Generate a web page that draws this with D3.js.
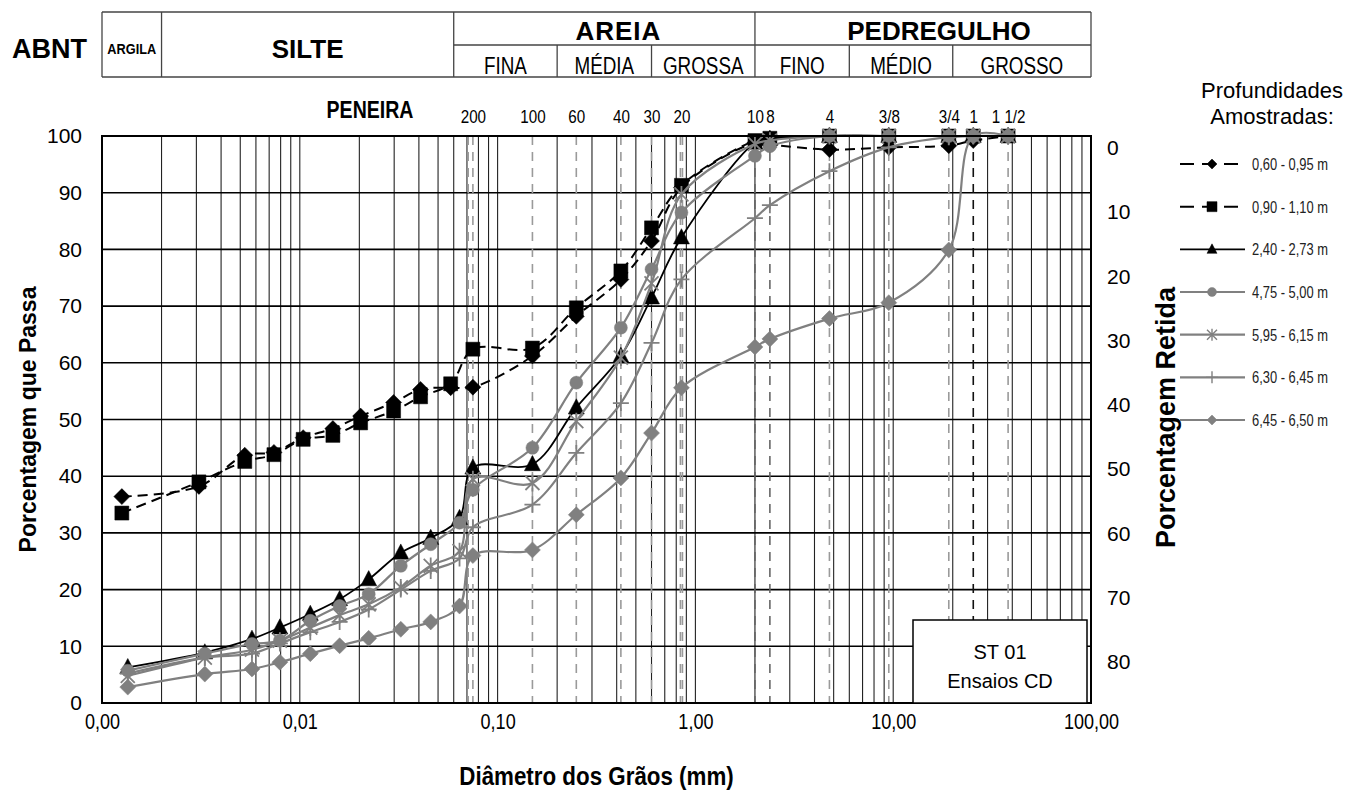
<!DOCTYPE html>
<html>
<head>
<meta charset="utf-8">
<title>Curva granulométrica - ST 01</title>
<script src="https://cdn.jsdelivr.net/npm/d3@7"></script>
<style>
  body { margin: 0; background: #fff; }
  svg { display: block; }
  svg text { font-family: "Liberation Sans", Arial, sans-serif; }
</style>
</head>
<body>
<script>
// ---------------------------------------------------------------
// data
// ---------------------------------------------------------------
var sieveMm     = [0.075, 0.15, 0.25, 0.42, 0.6, 0.85, 2.0, 2.38, 4.76, 9.5, 19.1, 25.4, 38.1];
var sieveLabels = ["200", "100", "60", "40", "30", "20", "10", "8", "4", "3/8", "3/4", "1", "1 1/2"];
// dashed sieve guide lines (some sieves are drawn twice)
var sieveLineMm = [0.071, 0.075, 0.15, 0.25, 0.42, 0.6, 0.84, 0.86, 2.0, 2.38, 4.76, 9.5, 19.1, 25.4, 38.1];

// sedimentation diameters (mm)
var sedMmA = [0.00126, 0.00309, 0.00527, 0.0074, 0.0104, 0.0147, 0.0203, 0.0298, 0.0408, 0.0579];
var sedMmB = [0.00135, 0.00331, 0.00573, 0.00793, 0.0113, 0.0159, 0.0223, 0.0324, 0.0459, 0.0642];

var depthLabels = ["0,60 - 0,95 m", "0,90 - 1,10 m", "2,40 - 2,73 m", "4,75 - 5,00 m",
                   "5,95 - 6,15 m", "6,30 - 6,45 m", "6,45 - 6,50 m"];

// % passing: 10 sedimentation values, then one per sieve
var pass060 = [36.4, 38.2, 43.7, 44.2, 46.8, 48.4, 50.6, 53.0, 55.3, 55.6,
               55.7, 61.2, 68.2, 74.7, 81.5, 90.9, 98.8, 98.5, 97.6, 98.0, 98.3, 99.2, 100];
var pass090 = [33.5, 39.0, 42.6, 43.8, 46.5, 47.2, 49.4, 51.5, 54.0, 56.3,
               62.4, 62.6, 69.7, 76.2, 83.8, 91.3, 99.2, 99.6, 100, 100, 100, 100, 100];
var pass240 = [6.3, 8.9, 11.3, 13.3, 15.7, 18.3, 21.8, 26.5, 29.1, 32.6,
               41.5, 42.1, 52.1, 61.2, 71.5, 82.1, 98.8, 99.5, 100, 100, 100, 100, 100];
var pass475 = [5.7, 8.7, 10.4, 11.0, 14.5, 17.1, 19.2, 24.2, 28.0, 31.8,
               37.6, 45.0, 56.5, 66.2, 76.5, 86.5, 96.5, 98.2, 100, 100, 100, 100, 100];
var pass595 = [4.8, 8.0, 9.4, 11.0, 13.3, 15.5, 17.4, 20.4, 24.2, 26.8,
               39.5, 38.8, 49.7, 60.9, 74.0, 89.7, 98.6, 99.2, 100, 100, 100, 100, 100];
var pass630 = [5.2, 8.0, 8.7, 10.5, 12.5, 14.3, 16.5, 20.0, 23.3, 25.5,
               31.0, 35.0, 44.1, 52.9, 63.5, 74.7, 85.5, 87.8, 93.8, 98.0, 99.8, 100, 100];
var pass645 = [2.8, 5.1, 6.0, 7.2, 8.7, 10.1, 11.4, 13.0, 14.3, 17.1,
               26.0, 27.0, 33.2, 39.7, 47.6, 55.6, 62.8, 64.2, 67.8, 70.6, 79.9, 100, 100];

// ABNT classes
var classLimits = [0.001, 0.002, 0.06, 0.2, 0.6, 2, 6, 20, 100];
var subNames    = ["ARGILA", "SILTE", "FINA", "MÉDIA", "GROSSA", "FINO", "MÉDIO", "GROSSO"];

var xTicks  = [0.001, 0.01, 0.1, 1, 10, 100];
var yTicks  = [0, 10, 20, 30, 40, 50, 60, 70, 80, 90, 100];
var yrTicks = [0, 10, 20, 30, 40, 50, 60, 70, 80];

// ---------------------------------------------------------------
// layout
// ---------------------------------------------------------------
var W = 1349, H = 792;
var plot = { left: 102, right: 1091, top: 136, bottom: 703 };

var svg = d3.select("body").append("svg").attr("width", W).attr("height", H);

var x  = d3.scaleLog().domain([0.001, 100]).range([plot.left, plot.right]);
var y  = d3.scaleLinear().domain([0, 100]).range([plot.bottom, plot.top]);
var yr = d3.scaleLinear().domain([0, 80]).range([148, 662]);

var grey = "#808080";

// no narrow font installed: squeeze text horizontally instead
function squeeze(sel, k) {
  sel.each(function() {
    var t = d3.select(this);
    var tx = +(t.attr("x") || 0);
    t.attr("x", 0).attr("transform", "translate(" + tx + ",0) scale(" + k + ",1)");
  });
  return sel;
}

// ---- header table -------------------------------------------
var head = svg.append("g");
var hTop = 12, hMid = 45, hBot = 77;
var hLine = function(x1, y1, x2, y2) {
  head.append("line").attr("x1", x1).attr("y1", y1).attr("x2", x2).attr("y2", y2)
      .attr("stroke", "#444").attr("stroke-width", 1.3);
};
hLine(x(0.001), hTop, x(100), hTop);
hLine(x(0.001), hBot, x(100), hBot);
hLine(x(0.06), hMid, x(100), hMid);
classLimits.forEach(function(c) {
  var top = (c === 0.2 || c === 0.6 || c === 6 || c === 20) ? hMid : hTop;
  hLine(x(c), top, x(c), hBot);
});
head.append("text").attr("x", 12).attr("y", 58).text("ABNT")
    .style("font-weight", "bold").style("font-size", "27px");
squeeze(head.append("text").attr("x", (x(0.001) + x(0.002)) / 2).attr("y", 54).attr("text-anchor", "middle")
    .text(subNames[0]).style("font-weight", "bold").style("font-size", "15px"), 0.85);
head.append("text").attr("x", (x(0.002) + x(0.06)) / 2).attr("y", 58).attr("text-anchor", "middle")
    .text(subNames[1]).style("font-weight", "bold").style("font-size", "26px");
head.append("text").attr("x", (x(0.06) + x(2)) / 2 + 14).attr("y", 40).attr("text-anchor", "middle")
    .text("AREIA").style("font-weight", "bold").style("font-size", "26px").style("letter-spacing", "1px");
head.append("text").attr("x", (x(2) + x(100)) / 2 + 16).attr("y", 40).attr("text-anchor", "middle")
    .text("PEDREGULHO").style("font-weight", "bold").style("font-size", "26px");
for (var i = 2; i < subNames.length; i++) {
  squeeze(head.append("text").attr("x", (x(classLimits[i]) + x(classLimits[i + 1])) / 2).attr("y", 74)
      .attr("text-anchor", "middle").text(subNames[i]).style("font-size", "23px"), 0.82);
}

// ---- grid ---------------------------------------------------
var grid = svg.append("g");
var vLines = [];
[0.001, 0.01, 0.1, 1, 10].forEach(function(dec) {
  for (var k = 1; k <= 9; k++) vLines.push(dec * k);
});
vLines.push(100);
grid.selectAll(".vg").data(vLines).enter().append("line")
    .attr("x1", function(d) { return x(d); }).attr("x2", function(d) { return x(d); })
    .attr("y1", plot.top).attr("y2", plot.bottom)
    .attr("stroke", "#222").attr("stroke-width", 1.1);
grid.selectAll(".hg").data(yTicks).enter().append("line")
    .attr("x1", plot.left).attr("x2", plot.right)
    .attr("y1", function(d) { return y(d); }).attr("y2", function(d) { return y(d); })
    .attr("stroke", "#000").attr("stroke-width", 1.6);
grid.selectAll(".sg").data(sieveLineMm).enter().append("line")
    .attr("x1", function(d) { return x(d); }).attr("x2", function(d) { return x(d); })
    .attr("y1", plot.top).attr("y2", plot.bottom)
    .attr("stroke", function(d) { return d === 25.4 ? "#111" : (d === 2.0 || d === 2.38 ? "#666" : "#9a9a9a"); })
    .attr("stroke-width", 1.6).attr("stroke-dasharray", "9,7");

// ---- axes ---------------------------------------------------
var fmtX = function(d) { return d3.format(".2f")(d).replace(".", ","); };
var gx = svg.append("g").attr("transform", "translate(0," + plot.bottom + ")")
    .call(d3.axisBottom(x).tickValues(xTicks).tickFormat(fmtX).tickSize(0).tickPadding(10));
gx.select(".domain").remove();
squeeze(gx.selectAll("text").style("font-size", "22px").attr("fill", "#000"), 0.82);

var gy = svg.append("g").attr("transform", "translate(" + (plot.left - 20) + ",0)")
    .call(d3.axisLeft(y).tickValues(yTicks).tickSize(0).tickPadding(0));
gy.select(".domain").remove();
gy.selectAll("text").style("font-size", "21px").attr("fill", "#000");

var gyr = svg.append("g").attr("transform", "translate(" + (plot.right + 16) + ",0)")
    .call(d3.axisRight(yr).tickValues(yrTicks).tickSize(0).tickPadding(0));
gyr.select(".domain").remove();
gyr.selectAll("text").style("font-size", "21px").attr("fill", "#000");

var gs = svg.append("g").attr("transform", "translate(0,123)")
    .call(d3.axisTop(x).tickValues(sieveMm).tickFormat(function(d, i) { return sieveLabels[i]; })
    .tickSize(0).tickPadding(0));
gs.select(".domain").remove();
squeeze(gs.selectAll("text").style("font-size", "19px").attr("fill", "#000"), 0.8);

squeeze(svg.append("text").attr("x", 370).attr("y", 118).attr("text-anchor", "middle")
   .text("PENEIRA").style("font-weight", "bold").style("font-size", "23px"), 0.85);

squeeze(svg.append("text").attr("x", (plot.left + plot.right) / 2).attr("y", 785)
   .attr("text-anchor", "middle").text("Diâmetro dos Grãos (mm)")
   .style("font-weight", "bold").style("font-size", "26px"), 0.86);
svg.append("text")
   .attr("transform", "translate(36," + ((plot.top + plot.bottom) / 2) + ") rotate(-90)")
   .attr("text-anchor", "middle").text("Porcentagem que Passa")
   .style("font-weight", "bold").style("font-size", "23px");
svg.append("text")
   .attr("transform", "translate(1175," + ((plot.top + plot.bottom) / 2 - 2) + ") rotate(-90)")
   .attr("text-anchor", "middle").text("Porcentagem Retida")
   .style("font-weight", "bold").style("font-size", "27px");

// ---- series -------------------------------------------------
var mk = {
  diamond:  function(h) { return "M0," + (-h) + "L" + h + ",0L0," + h + "L" + (-h) + ",0Z"; },
  square:   function(h) { return "M" + (-h) + "," + (-h) + "h" + 2 * h + "v" + 2 * h + "h" + (-2 * h) + "Z"; },
  triangle: function(h) { return "M0," + (-h * 1.1) + "L" + h + "," + (h * 0.8) + "L" + (-h) + "," + (h * 0.8) + "Z"; },
  circle:   function(h) { return d3.symbol().type(d3.symbolCircle).size(Math.PI * h * h)(); },
  star:     function(h) { return "M" + (-h) + "," + (-h) + "L" + h + "," + h + "M" + h + "," + (-h) + "L" + (-h) + "," + h + "M0," + (-h * 1.2) + "L0," + (h * 1.2); },
  plus:     function(h) { return "M" + (-h) + ",0L" + h + ",0M0," + (-h) + "L0," + h; }
};

var styles = [
  { color: "#000", dash: "10,6", width: 2,   marker: "diamond",  size: 8,   legSize: 5 },
  { color: "#000", dash: "10,6", width: 2,   marker: "square",   size: 7,   legSize: 5 },
  { color: "#000", dash: null,   width: 1.8, marker: "triangle", size: 8,   legSize: 5 },
  { color: grey,   dash: null,   width: 2.2, marker: "circle",   size: 6.5, legSize: 4.5 },
  { color: grey,   dash: null,   width: 2.2, marker: "star",     size: 7,   legSize: 5 },
  { color: grey,   dash: null,   width: 2.2, marker: "plus",     size: 8,   legSize: 6 },
  { color: grey,   dash: null,   width: 2.2, marker: "diamond",  size: 8,   legSize: 5 }
];

var allPass = [pass060, pass090, pass240, pass475, pass595, pass630, pass645];
var series = allPass.map(function(vals, i) {
  var dias = (i < 2 ? sedMmA : sedMmB).concat(sieveMm);
  return { name: depthLabels[i], style: styles[i],
           pts: vals.map(function(v, j) { return { d: dias[j], v: v }; }) };
});

var line = d3.line().x(function(p) { return x(p.d); }).y(function(p) { return y(p.v); })
    .curve(d3.curveCatmullRom.alpha(0.5));

var gSeries = svg.append("g");
series.forEach(function(s) {
  var st = s.style;
  var g = gSeries.append("g");
  g.append("path").attr("d", line(s.pts)).attr("fill", "none")
   .attr("stroke", st.color).attr("stroke-width", st.width)
   .attr("stroke-dasharray", st.dash);
  var stroked = (st.marker === "star" || st.marker === "plus");
  g.selectAll("path.m").data(s.pts).enter().append("path").attr("class", "m")
   .attr("transform", function(p) { return "translate(" + x(p.d) + "," + y(p.v) + ")"; })
   .attr("d", mk[st.marker](st.size))
   .attr("fill", stroked ? "none" : st.color)
   .attr("stroke", st.color).attr("stroke-width", stroked ? 1.8 : 0.5);
});

// ---- frame --------------------------------------------------
svg.append("rect").attr("x", plot.left).attr("y", plot.top)
   .attr("width", plot.right - plot.left).attr("height", plot.bottom - plot.top)
   .attr("fill", "none").attr("stroke", "#000").attr("stroke-width", 2);

// ---- ST 01 box ----------------------------------------------
var box = svg.append("g");
box.append("rect").attr("x", 913).attr("y", 620).attr("width", plot.right - 4 - 913).attr("height", plot.bottom - 620)
   .attr("fill", "#fff").attr("stroke", "#000").attr("stroke-width", 1.5);
box.append("text").attr("x", 1000).attr("y", 659).attr("text-anchor", "middle").text("ST 01").style("font-size", "20px");
box.append("text").attr("x", 1000).attr("y", 688).attr("text-anchor", "middle").text("Ensaios CD").style("font-size", "20px");

// ---- legend -------------------------------------------------
var leg = svg.append("g");
leg.append("text").attr("x", 1272).attr("y", 98).attr("text-anchor", "middle")
   .text("Profundidades").style("font-size", "22px");
leg.append("text").attr("x", 1272).attr("y", 124).attr("text-anchor", "middle")
   .text("Amostradas:").style("font-size", "22px");
var ly = d3.scaleLinear().domain([0, 6]).range([164, 420]);
series.forEach(function(s, i) {
  var st = s.style, yy = ly(i);
  leg.append("line").attr("x1", 1180).attr("x2", 1245).attr("y1", yy).attr("y2", yy)
     .attr("stroke", st.color).attr("stroke-width", st.width)
     .attr("stroke-dasharray", st.dash ? "14,8" : null);
  var stroked = (st.marker === "star" || st.marker === "plus");
  leg.append("path").attr("transform", "translate(1212," + yy + ")").attr("d", mk[st.marker](st.legSize))
     .attr("fill", stroked ? "none" : st.color).attr("stroke", st.color).attr("stroke-width", stroked ? 1.4 : 0.5);
  squeeze(leg.append("text").attr("x", 1252).attr("y", yy + 6).text(s.name)
     .style("font-size", "17px").attr("fill", "#222"), 0.76);
});
</script>
</body>
</html>
